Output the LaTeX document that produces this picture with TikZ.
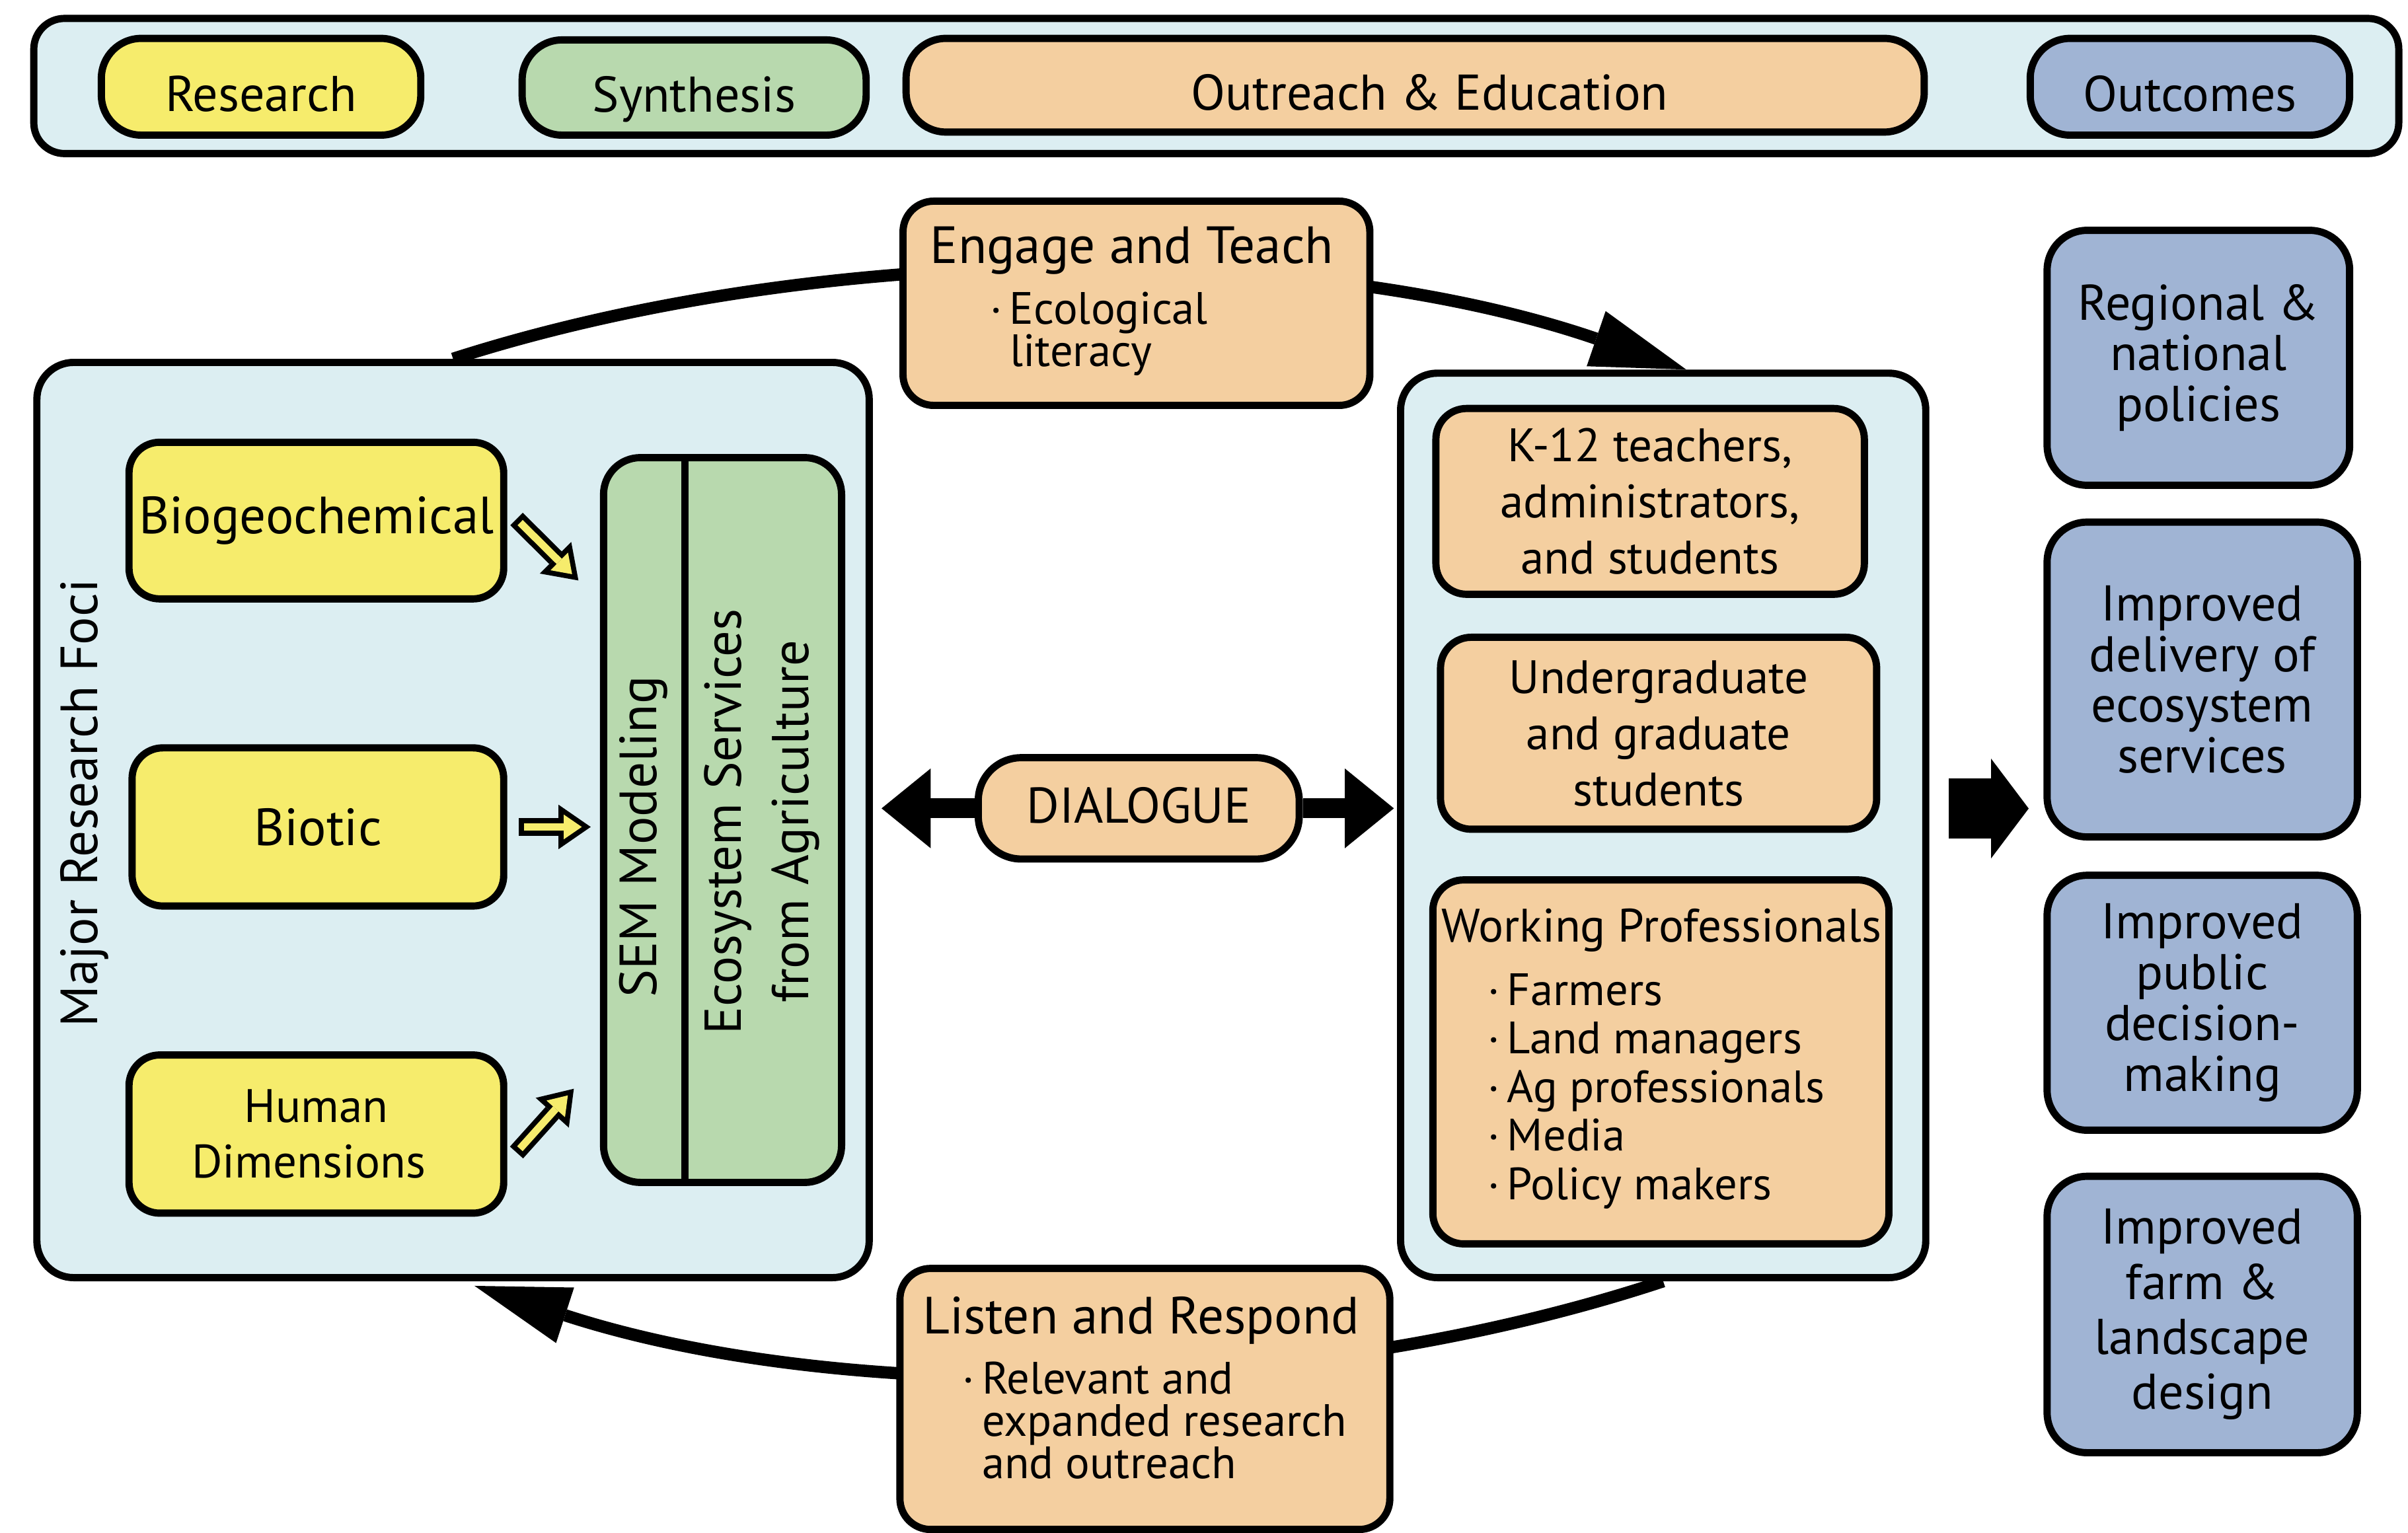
\documentclass[tikz,border=0pt]{standalone}
\usepackage{fontspec}
\setmainfont{PT Sans}
\usetikzlibrary{arrows.meta,backgrounds}

\definecolor{panelblue}{HTML}{DCEEF2}
\definecolor{resyellow}{HTML}{F6EC6C}
\definecolor{synthgreen}{HTML}{B8D9AE}
\definecolor{outorange}{HTML}{F4CFA0}
\definecolor{outcomeblue}{HTML}{A0B4D4}

\begin{document}
\begin{tikzpicture}[x=0.1mm, y=-0.1mm,
  rbox/.style={draw=black, line width=0.47mm, rounded corners=2mm, inner sep=0pt, align=center},
  panel/.style={rbox, fill=panelblue, rounded corners=2.4mm},
  pill/.style={rbox, rounded corners=2.6mm, text height=3.2mm, text depth=0pt, font=\fontsize{9.3}{10}\selectfont},
  bigtext/.style={font=\fontsize{9.7}{11}\selectfont},
  txt/.style={inner sep=0pt, align=left},
  listtext/.style={txt, anchor=west, font=\fontsize{8.4}{7.8}\selectfont},
  audience/.style={rbox, fill=outorange, font=\fontsize{8.7}{10.4}\selectfont},
  outcome/.style={rbox, fill=outcomeblue, rounded corners=2.6mm, minimum width=20.2mm, font=\fontsize{9.3}{9.4}\selectfont},
  looparrow/.style={line width=0.8mm, -{Triangle[length=6.2mm,width=3.8mm,line width=0pt]}},
  blockarrow/.style={line width=1.3mm, -{Triangle[length=3.2mm,width=5.2mm,line width=0pt]}},
  bigarrow/.style={line width=3.9mm, -{Triangle[length=2.45mm,width=6.5mm,line width=0pt]}},
  ybk/.style={draw=black, line width=1.15mm, -{Triangle[length=2.1mm,width=2.9mm,line width=0pt]}},
  yfr/.style={draw=resyellow, line width=0.48mm, shorten <=0.33mm, shorten >=0.58mm,
    -{Triangle[length=1.18mm,width=1.62mm,line width=0pt]}}]
\useasboundingbox (0,0) rectangle (1568,998);

% legend bar
\node[panel, minimum width=154mm, minimum height=8.8mm, rounded corners=2mm] (legend) at (792,56) {};
\node[pill, fill=resyellow, minimum width=20.8mm, minimum height=6.3mm] (research) at (170,56.5) {Research};
\node[pill, fill=synthgreen, minimum width=22.4mm, minimum height=6.2mm] (synthesis) at (452,57) {Synthesis};
\node[pill, fill=outorange, minimum width=66.3mm, minimum height=6.1mm] (outreach) at (921.5,55.5) {\hspace*{1.9mm}Outreach \& Education};
\node[pill, fill=outcomeblue, minimum width=20.8mm, minimum height=6.3mm] (outcomes) at (1426,56.5) {Outcomes};

% research foci
\node[panel, minimum width=54.2mm, minimum height=59.6mm] (lpanel) at (295,534) {};
\node[txt, bigtext, rotate=90] (foci) at (55,523) {Major Research Foci};
\node[rbox, bigtext, fill=resyellow, minimum width=24.4mm, minimum height=10.2mm] (biogeo) at (206,339) {Biogeochemical};
\node[rbox, bigtext, fill=resyellow, minimum width=24.2mm, minimum height=10.3mm] (biotic) at (207,538.5) {Biotic};
\node[rbox, fill=resyellow, minimum width=24.4mm, minimum height=10.3mm, font=\fontsize{8.7}{10.3}\selectfont] (human) at (206,738.5) {Human\\Dimensions\hspace*{1mm}};

\node[rbox, fill=synthgreen, minimum width=15.5mm, minimum height=47.2mm, rounded corners=2.4mm] (sem) at (470.5,534) {};
\coordinate (semdiv) at (446,534);
\draw[line width=0.47mm] (sem.north -| semdiv) -- (sem.south -| semdiv);
\node[txt, bigtext, rotate=90] (semlabel) at (419,545) {SEM Modeling};
\node[txt, rotate=90, align=center, font=\fontsize{9.6}{12.5}\selectfont] (esalabel) at (496,535) {Ecosystem Services\\from Agriculture};

% yellow arrows, outline first
\draw[ybk] ([shift={(6,-1)}]biogeo.east) -- ([shift={(-14,-156)}]sem.west);
\draw[yfr] ([shift={(6,-1)}]biogeo.east) -- ([shift={(-14,-156)}]sem.west);
\draw[ybk] ([xshift=0.75mm]biotic.east) -- ([xshift=-0.6mm]biotic.east -| sem.west);
\draw[yfr] ([xshift=0.75mm]biotic.east) -- ([xshift=-0.6mm]biotic.east -| sem.west);
\draw[ybk] ([shift={(6,12)}]human.east) -- ([shift={(-17,175)}]sem.west);
\draw[yfr] ([shift={(6,12)}]human.east) -- ([shift={(-17,175)}]sem.west);

% engage and teach
\node[rbox, fill=outorange, minimum width=30.4mm, minimum height=13.3mm] (engage) at (740,197.5) {};
\node[txt, bigtext] (engagetitle) at (737,163) {Engage and Teach};
\node[listtext] (engagelist) at (644,217.5) {·\,Ecological\\\phantom{·\,}literacy};

% dialogue
\node[pill, fill=outorange, minimum width=20.9mm, minimum height=6.6mm, rounded corners=2.8mm, text height=1.9mm] (dialogue) at (741.5,526.4) {DIALOGUE};

% listen and respond
\node[rbox, fill=outorange, minimum width=31.9mm, minimum height=17mm] (listen) at (745.5,911) {};
\node[txt, bigtext] (listentitle) at (743,860) {Listen and Respond};
\node[listtext] (listenlist) at (626,925) {·\,Relevant and\\\phantom{·\,}expanded research\\\phantom{·\,}and outreach};

% audiences
\node[panel, minimum width=34.2mm, minimum height=58.9mm] (rpanel) at (1083,537.5) {};
\node[audience, minimum width=27.9mm, minimum height=12.1mm] (k12) at (1074.5,326.5) {K-12 teachers,\\administrators,\\and students};
\node[audience, minimum width=28.4mm, minimum height=12.5mm] (ugrad) at (1080,477.5) {Undergraduate\\and graduate\\students};
\node[audience, minimum width=29.7mm, minimum height=23.7mm] (work) at (1081.5,691.5) {};
\node[txt, font=\fontsize{8.7}{10}\selectfont] (worktitle) at (1082,606) {Working Professionals};
\node[listtext, font=\fontsize{8.4}{9}\selectfont] (worklist) at (968,710.5) {·\,Farmers\\·\,Land managers\\·\,Ag professionals\\·\,Media\\·\,Policy makers};

% outcomes
\node[outcome, minimum width=19.7mm, minimum height=16.6mm] (policies) at (1431.5,233) {Regional \&\\national\\policies};
\node[outcome, minimum height=20.5mm] (delivery) at (1434,442.5) {Improved\\delivery of\\ecosystem\\services};
\node[outcome, minimum height=16.6mm] (decisions) at (1434,653) {Improved\\public\\decision-\\making};
\node[outcome, minimum height=18mm, font=\fontsize{9.3}{10.2}\selectfont] (design) at (1434,856) {Improved\\farm \&\\landscape\\design};

% connectors
\begin{scope}[on background layer]
\draw[looparrow] (lpanel.north) .. controls (540,155) and (857,158) .. ([xshift=1.5mm]rpanel.north);
\draw[looparrow] (rpanel.south) .. controls (848,912) and (548,915) .. ([xshift=1.4mm,yshift=-0.3mm]lpanel.south);
\draw[blockarrow, shorten >=0.57mm] (dialogue.west) -- (dialogue.west -| lpanel.east);
\draw[blockarrow, shorten >=0.2mm] (dialogue.east) -- (dialogue.east -| rpanel.west);
\end{scope}
\coordinate (resulttail) at (1269,526.5);
\coordinate (resulttip) at (1321,526.5);
\draw[bigarrow] (resulttail) -- (resulttip);
\end{tikzpicture}
\end{document}
